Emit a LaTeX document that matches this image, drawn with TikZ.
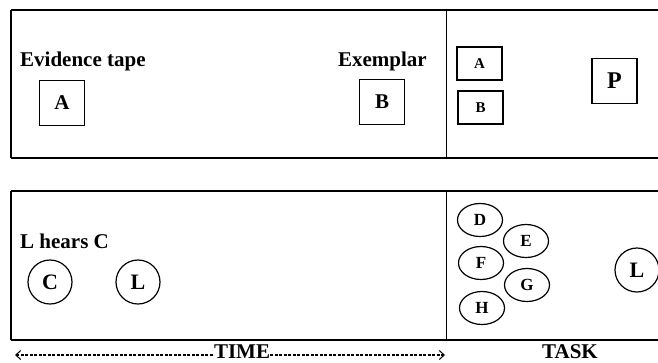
\documentclass[tikz,border=0pt]{standalone}
\usepackage{fontspec}
\setmainfont{Liberation Serif}
\usetikzlibrary{arrows.meta,shapes.geometric}
\begin{document}
\begin{tikzpicture}[x=1pt,y=-1pt,
  panel/.style={draw,line width=1.6pt},
  divline/.style={draw,line width=1pt},
  sq/.style={draw,line width=1.2pt,minimum width=45pt,minimum height=45pt,inner sep=0pt,font=\bfseries\fontsize{21}{21}\selectfont},
  smallsq/.style={draw,line width=1.2pt,minimum width=45pt,minimum height=33pt,inner sep=0pt,font=\bfseries\fontsize{15}{15}\selectfont},
  circ/.style={draw,circle,line width=1.2pt,minimum size=44pt,inner sep=0pt,font=\bfseries\fontsize{22}{22}\selectfont},
  ell/.style={draw,ellipse,line width=1.2pt,minimum width=45pt,minimum height=33pt,inner sep=0pt,font=\bfseries\fontsize{17}{17}\selectfont},
  lbl/.style={font=\bfseries\fontsize{21}{21}\selectfont,inner sep=0pt},
  timeline/.style={line width=1.2pt,dash pattern=on 3pt off 1.5pt}
]
\useasboundingbox[fill=white] (0,0) rectangle (658,362);
% panels
\draw[panel] (11,10) -- (670,10);
\draw[panel] (11,158) -- (670,158);
\draw[panel] (11,10) -- (11,158);
\draw[divline] (446,10) -- (446,158);
\draw[panel] (11,191) -- (670,191);
\draw[panel] (11,340) -- (670,340);
\draw[panel] (11,191) -- (11,340);
\draw[divline] (446,191) -- (446,340);
% top panel
\node[lbl,anchor=base west] (ev) at (20,66) {Evidence tape};
\node[sq] (a) at (62,103) {A};
\node[lbl,anchor=base east] (ex) at (427,66) {Exemplar};
\node[sq] (b) at (382,102) {B};
\node[smallsq] (a2) at (479.5,63.5) {A};
\node[smallsq] (b2) at (480.5,107.5) {B};
\node[sq,font=\bfseries\fontsize{24}{24}\selectfont] (p) at (614.5,81) {P};
% bottom panel
\node[lbl,anchor=base west] (lh) at (20,248) {L hears C};
\node[circ] (c) at (50,282) {C};
\node[circ] (l) at (138,282) {L};
\node[ell] (d) at (480,220) {D};
\node[ell] (e) at (526,241) {E};
\node[ell] (f) at (481,263) {F};
\node[ell] (g) at (527,285) {G};
\node[ell] (h) at (482,308) {H};
\node[circ] (l2) at (637,270) {L};
% axis
\node[lbl,anchor=base] (time) at (242,358) {TIME};
\coordinate (tl) at (15,355);
\coordinate (tr) at (445,355);
\draw[timeline,{Straight Barb[length=5pt,width=9pt,line width=1pt]}-] (tl) -- (tl -| time.west);
\draw[timeline,-{Straight Barb[length=5pt,width=9pt,line width=1pt]}] (tr -| time.east) -- (tr);
\node[lbl,anchor=base] (task) at (570,358) {TASK};
\end{tikzpicture}
\end{document}
